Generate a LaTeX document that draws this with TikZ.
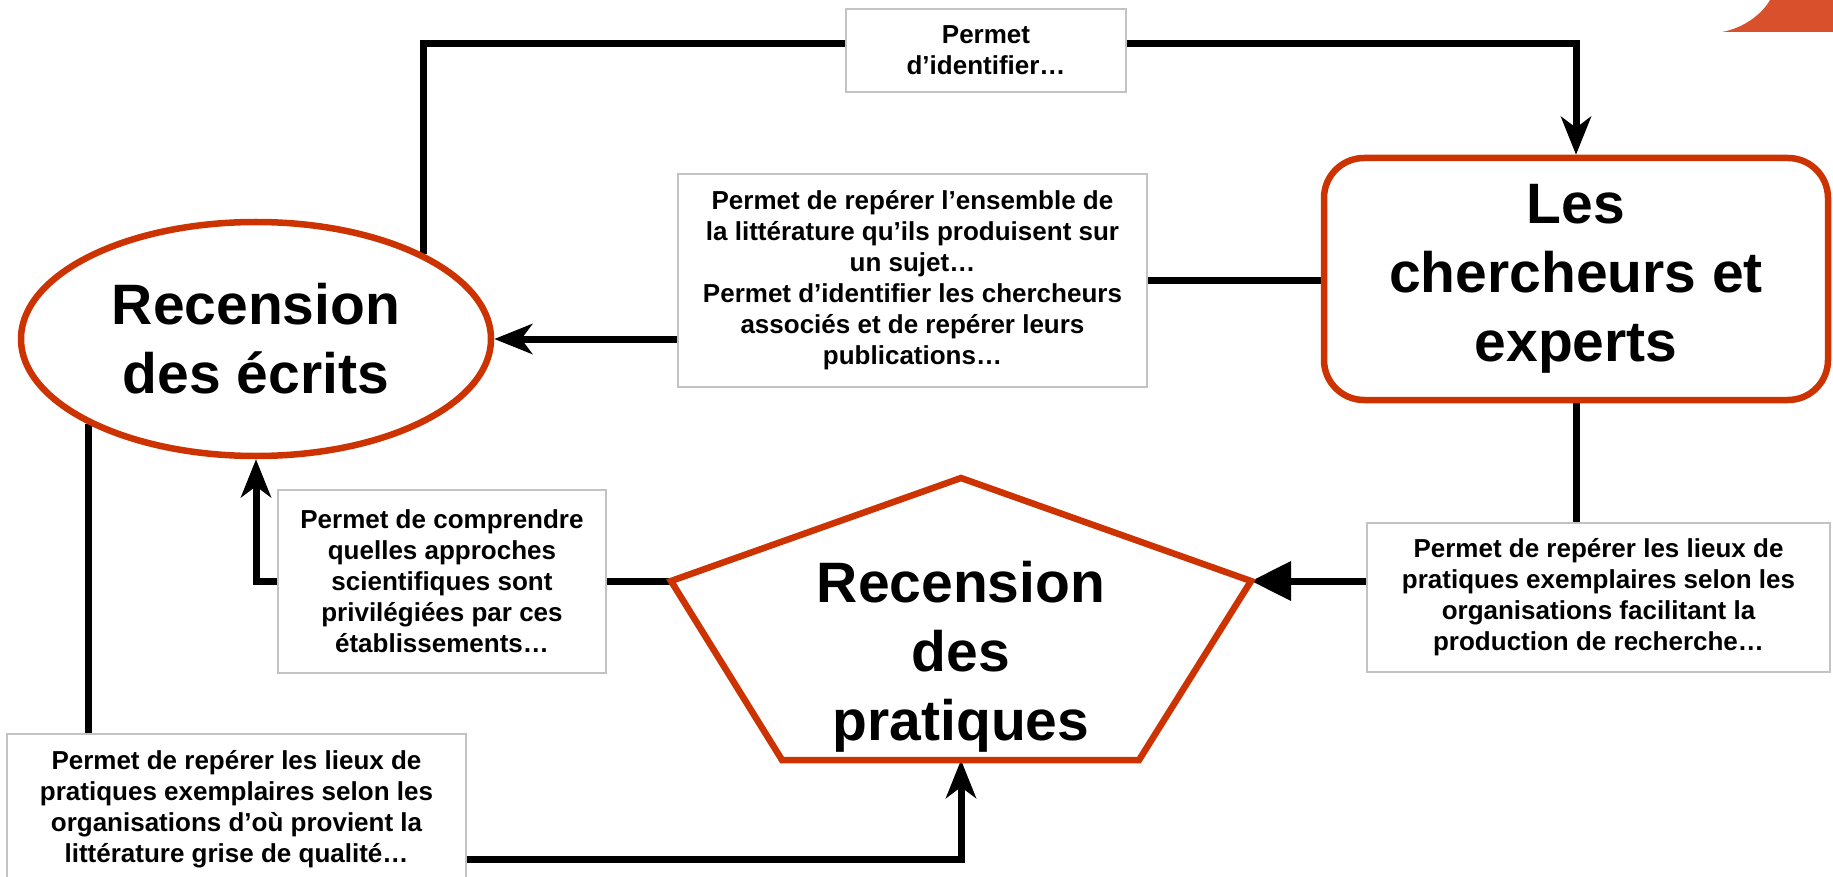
\documentclass[tikz,border=0pt]{standalone}
\usepackage{fontspec}
\setmainfont{Liberation Sans}
\usetikzlibrary{arrows.meta,shapes.geometric}
\definecolor{redline}{RGB}{204,51,0}
\definecolor{cornerred}{RGB}{216,80,44}
\definecolor{boxgray}{RGB}{195,195,195}
\pgfdeclarelayer{bg}
\pgfsetlayers{bg,main}
\begin{document}
\begin{tikzpicture}[x=1pt,y=-1pt,
  conn/.style={line width=7pt, draw=black},
  tipS/.style={-{Stealth[length=38pt,width=30pt,inset=11pt]}},
  tipT/.style={-{Triangle[length=40pt,width=38pt]}},
  lbl/.style={draw=boxgray, line width=2pt, fill=white, align=center,
    font=\fontsize{26}{31}\selectfont\bfseries, inner sep=0pt},
  big/.style={align=center, font=\fontsize{57}{69}\selectfont\bfseries, inner sep=0pt},
  redshape/.style={draw=redline, line width=6.5pt, fill=white},
]
\useasboundingbox (0,0) rectangle (1833,877);

% top-right decoration
\fill[cornerred] (1722,32) .. controls (1744,28) and (1762,14) .. (1770,0) -- (1833,0) -- (1833,32) -- cycle;

% main shapes
\node[ellipse, redshape, big, minimum width=470pt, minimum height=234pt] (ecrits) at (256,339) {Recension\\des écrits};
\node[redshape, big, rounded corners=40pt, minimum width=504pt, minimum height=242pt] (experts) at (1576,279) {Les\\chercheurs et\\experts};

\coordinate (pT) at (961,478);
\coordinate (pL) at (671,581);
\coordinate (pR) at (1251,581);
\coordinate (pBL) at (782,760);
\coordinate (pBR) at (1139,760);
\coordinate (pB) at (961,760);
\draw[redshape] (pT) -- (pR) -- (pBR) -- (pBL) -- (pL) -- cycle;
\node[big] (pratiques) at (961,657) {Recension\\des\\pratiques};

% label boxes
\node[lbl, minimum width=280pt, minimum height=83pt] (l1) at (986,50.5) {Permet\\d’identifier…};
\node[lbl, minimum width=469pt, minimum height=213pt] (l2) at (912.5,280.5) {Permet de repérer l’ensemble de\\la littérature qu’ils produisent sur\\un sujet…\\Permet d’identifier les chercheurs\\associés et de repérer leurs\\publications…};
\node[lbl, minimum width=328pt, minimum height=183pt] (l3) at (442,581.5) {Permet de comprendre\\quelles approches\\scientifiques sont\\privilégiées par ces\\établissements…};
\node[lbl, minimum width=463pt, minimum height=149pt] (l4) at (1598.5,597.5) {Permet de repérer les lieux de\\pratiques exemplaires selon les\\organisations facilitant la\\production de recherche…};
\node[lbl, minimum width=459pt, minimum height=150pt, anchor=north] (l5) at (236.5,733) {Permet de repérer les lieux de\\pratiques exemplaires selon les\\organisations d’où provient la\\littérature grise de qualité…};

\coordinate (topline) at (986,44);
\coordinate (botline) at (0,859);

% connectors
\begin{pgfonlayer}{bg}
\draw[conn, tipS] (ecrits.27) |- (topline) -| (experts.north);
\draw[conn] (l2.east) -- (l2.east -| experts.west);
\draw[conn, tipS] (l2.west |- ecrits.east) -- (ecrits.east);
\draw[conn] (experts.south) -- (experts.south |- l4.north);
\draw[conn, tipT] (l4.west |- pR) -- (pR);
\draw[conn] (pL) -- (pL -| l3.east);
\draw[conn, tipS] (l3.west |- pL) -| (ecrits.south);
\draw[conn] (ecrits.207) -- (ecrits.207 |- l5.north);
\draw[conn, tipS] (l5.east |- botline) -| (pB);
\end{pgfonlayer}
\end{tikzpicture}
\end{document}
